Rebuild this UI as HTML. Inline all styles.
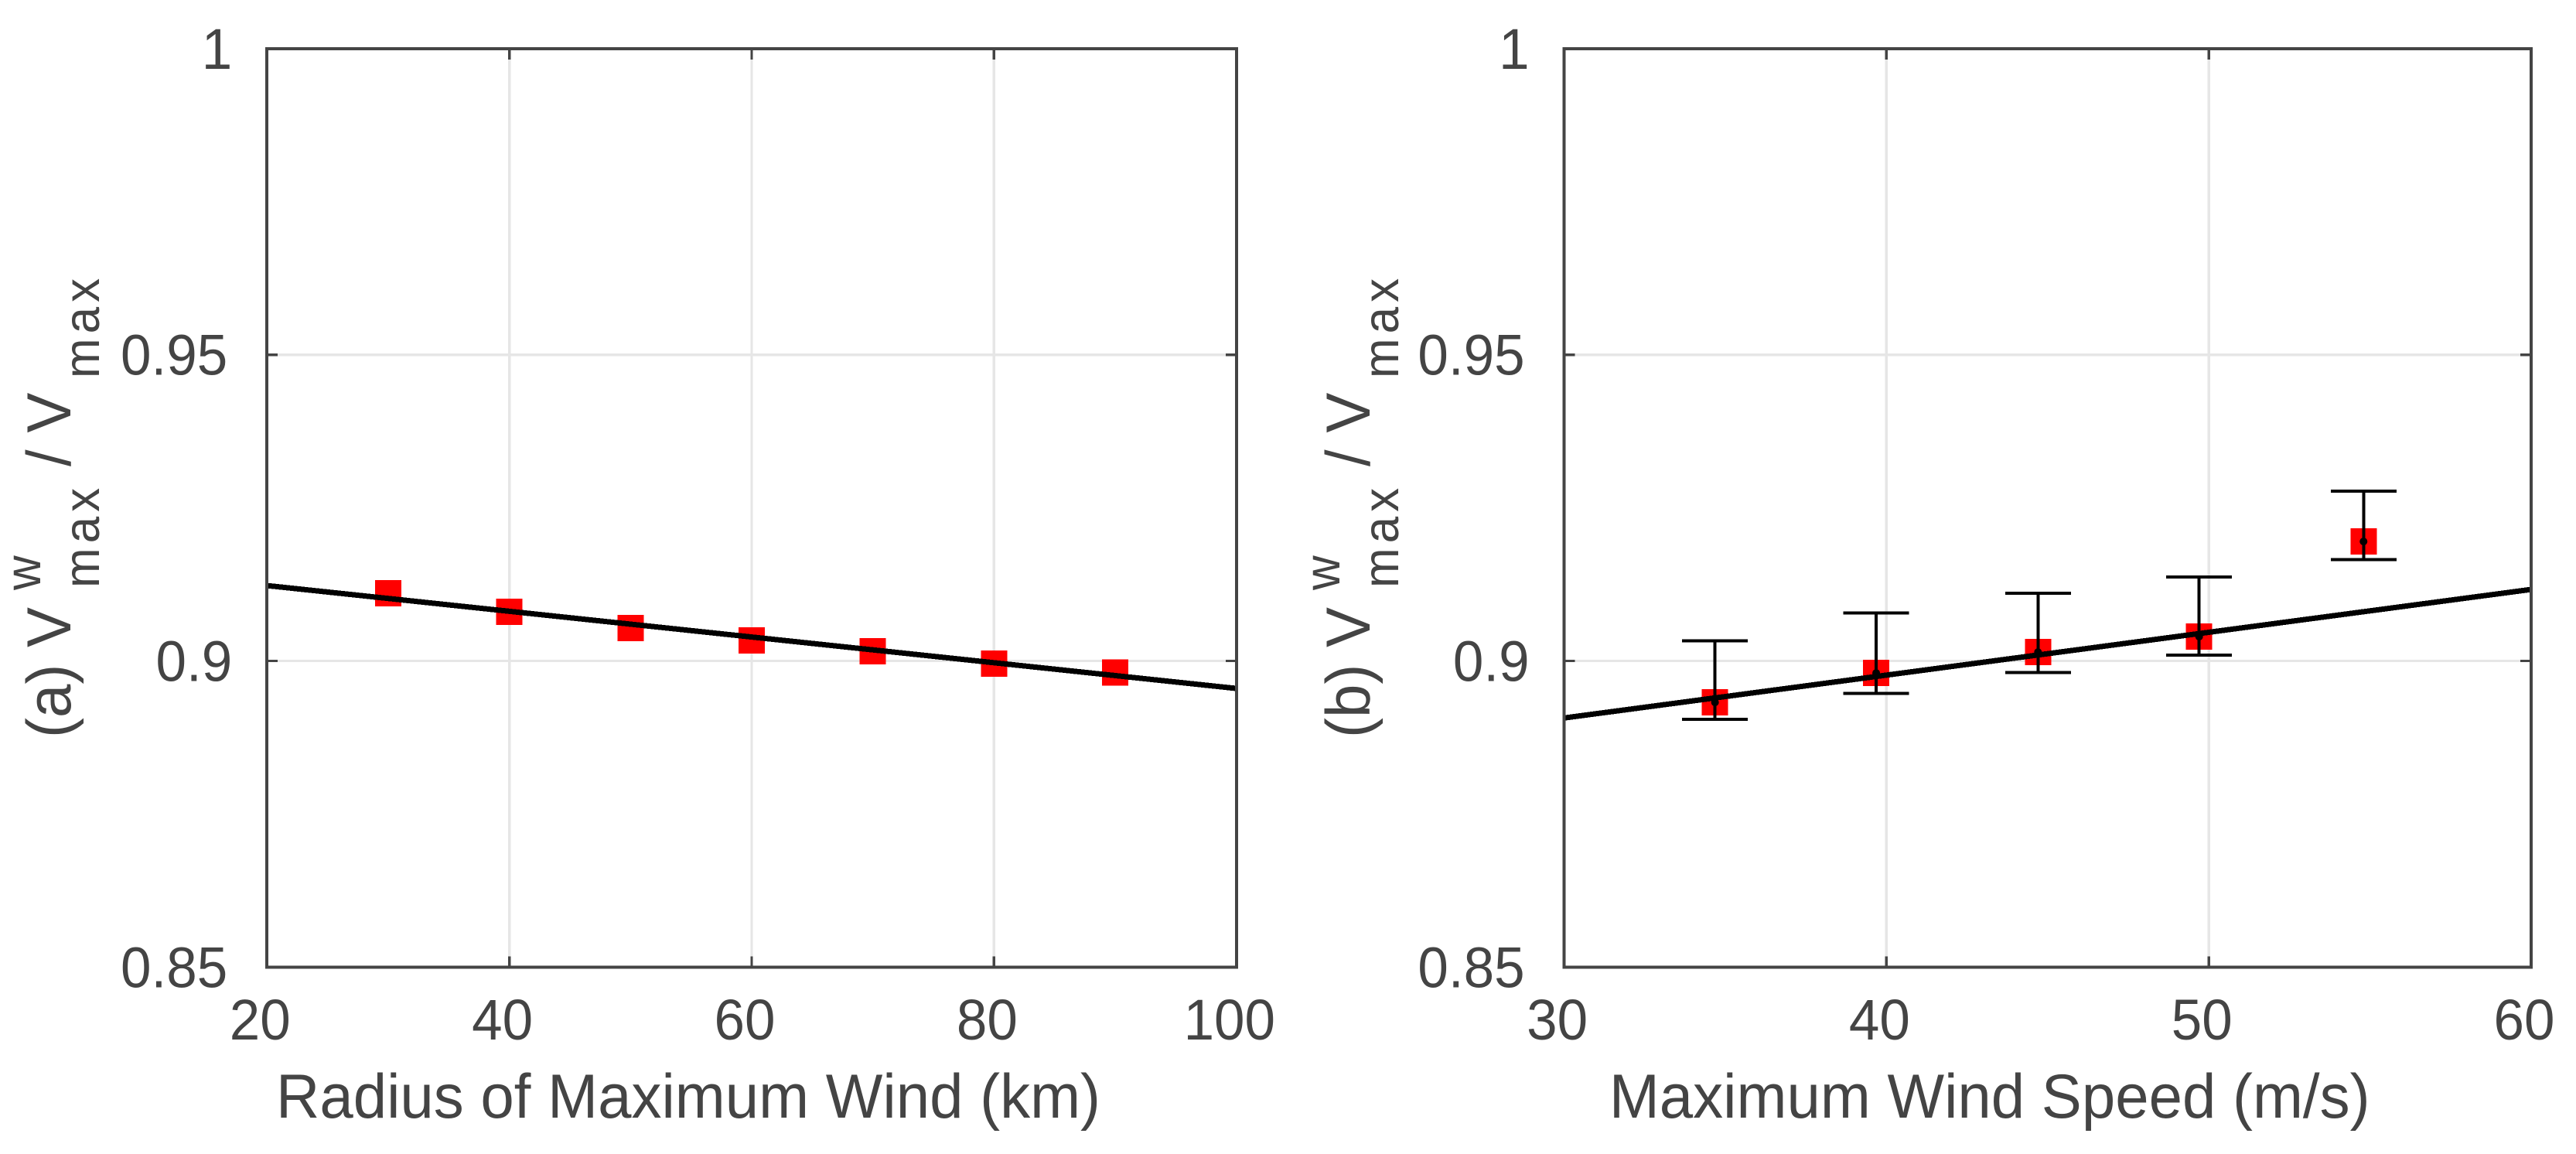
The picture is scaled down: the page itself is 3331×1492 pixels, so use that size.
<!DOCTYPE html>
<html lang="en">
<head>
<meta charset="utf-8">
<title>Wind ratio charts</title>
<style>
  html, body { margin: 0; padding: 0; background: #fff; }
  svg { display: block; }
  text { font-family: "Liberation Sans", Arial, sans-serif; fill: #444444; }
</style>
</head>
<body>
<svg id="chart" xmlns="http://www.w3.org/2000/svg" width="3331" height="1492" viewBox="0 0 3331 1492"></svg>
<script>
// Shared y axis
const yDomain = [0.85, 1];
const yTickValues = [0.85, 0.9, 0.95, 1];
const yTickLabels = ['0.85', '0.9', '0.95', '1'];

// Panel (a)
const aXDomain = [20, 100];
const aXTickValues = [20, 40, 60, 80, 100];
const aXTickLabels = ['20', '40', '60', '80', '100'];
const aRadius = [30, 40, 50, 60, 70, 80, 90];
const aRatio = [0.91104, 0.90801, 0.90536, 0.90334, 0.90157, 0.89955, 0.89808];
const aFitX = [20, 100];
const aFitY = [0.9123, 0.8955];

// Panel (b)
const bXDomain = [30, 60];
const bXTickValues = [30, 40, 50, 60];
const bXTickLabels = ['30', '40', '50', '60'];
const bSpeed = [34.68, 39.68, 44.7, 49.7, 54.8];
const bRatio = [0.89323, 0.89803, 0.90144, 0.90397, 0.9195];
const bUpper = [0.90325, 0.90784, 0.91108, 0.91373, 0.92775];
const bLower = [0.89049, 0.89471, 0.89812, 0.90093, 0.91656];
const bFitX = [30, 60];
const bFitY = [0.89068, 0.91167];

const svgNS = 'http://www.w3.org/2000/svg';
const root = document.getElementById('chart');
const TOP = 62.8, BOTTOM = 1250.3;
const INK = '#444444', GRID = '#e6e6e6';
const STRETCH = 1.04;

function make(parent, tag, attrs, content) {
  const el = document.createElementNS(svgNS, tag);
  for (const k in attrs) el.setAttribute(k, attrs[k]);
  if (content !== undefined) el.textContent = content;
  parent.appendChild(el);
  return el;
}
function linear(domain, r0, r1) {
  return v => r0 + (v - domain[0]) / (domain[1] - domain[0]) * (r1 - r0);
}
const yScale = linear(yDomain, BOTTOM, TOP);

function drawFrame(g, left, right, xScale, xTickValues) {
  // Grid lines
  xTickValues.forEach(v => {
    if (v === xTickValues[0] || v === xTickValues[xTickValues.length - 1]) return;
    const l = make(g, 'line', { x1: xScale(v), x2: xScale(v), y1: TOP, y2: BOTTOM, stroke: GRID, 'stroke-width': 3.4, 'shape-rendering': 'crispEdges' });
    
    
  });
  yTickValues.forEach(v => {
    if (v === yDomain[0] || v === yDomain[1]) return;
    const l = make(g, 'line', { x1: left, x2: right, y1: yScale(v), y2: yScale(v), stroke: GRID, 'stroke-width': 3.4, 'shape-rendering': 'crispEdges' });
    
    
  });
}

function drawAxes(g, left, right, xScale, xTickValues, xTickLabels) {
  const TICK = 14;
  xTickValues.forEach((v, i) => {
    const x = xScale(v);
    const t1 = make(g, 'line', { x1: x, x2: x, y1: BOTTOM, y2: BOTTOM - TICK, stroke: INK, 'stroke-width': 3.4, 'shape-rendering': 'crispEdges' });
    
    
    const t2 = make(g, 'line', { x1: x, x2: x, y1: TOP, y2: TOP + TICK, stroke: INK, 'stroke-width': 3.4, 'shape-rendering': 'crispEdges' });
    
    
    const lab = make(g, 'text', { transform: 'translate(' + (x - 9) + ',1344) scale(1,' + STRETCH + ')', 'font-size': 71, 'text-anchor': 'middle' }, xTickLabels[i]);
    
    
  });
  yTickValues.forEach((v, i) => {
    const y = yScale(v);
    const t1 = make(g, 'line', { x1: left, x2: left + TICK, y1: y, y2: y, stroke: INK, 'stroke-width': 3.4, 'shape-rendering': 'crispEdges' });
    
    
    const t2 = make(g, 'line', { x1: right, x2: right - TICK, y1: y, y2: y, stroke: INK, 'stroke-width': 3.4, 'shape-rendering': 'crispEdges' });
    
    
    const anchorX = left - (yTickLabels[i].length > 3 ? 51 : 45);
    const lab = make(g, 'text', { transform: 'translate(' + anchorX + ',' + (y + 26) + ') scale(1,' + STRETCH + ')', 'font-size': 71, 'text-anchor': 'end' }, yTickLabels[i]);
    
    
  });
  const box = make(g, 'rect', { x: left, y: TOP, width: right - left, height: BOTTOM - TOP, fill: 'none', stroke: INK, 'stroke-width': 4, 'shape-rendering': 'crispEdges' });
  
  
}

function drawYTitle(g, dx, letter) {
  const parts = [
    { s: '(' + letter + ') V', bx: 91, by: 954, size: 78, ls: 0, name: 'y-title-numerator' },
    { s: 'w', bx: 52, by: 763, size: 62, ls: 0, name: 'y-title-superscript' },
    { s: 'max', bx: 128, by: 760, size: 62, ls: 6, name: 'y-title-numerator-subscript' },
    { s: '/ V', bx: 91, by: 603, size: 78, ls: 0, name: 'y-title-denominator' },
    { s: 'max', bx: 128, by: 489, size: 62, ls: 6, name: 'y-title-denominator-subscript' }
  ];
  parts.forEach(p => {
    const t = make(g, 'text', { transform: 'translate(' + (p.bx + dx) + ',' + p.by + ') rotate(-90) scale(1,' + STRETCH + ')', 'font-size': p.size, 'letter-spacing': p.ls }, p.s);
    
    
  });
}

function drawSquares(g, xs, ys, xScale) {
  const S = 34;
  xs.forEach((v, i) => {
    const m = make(g, 'rect', { x: xScale(v) - S / 2, y: yScale(ys[i]) - S / 2, width: S, height: S, fill: '#ff0000', 'shape-rendering': 'crispEdges' });
    
    
  });
}

function drawFit(g, fx, fy, xScale) {
  const l = make(g, 'line', { x1: xScale(fx[0]), y1: yScale(fy[0]), x2: xScale(fx[1]), y2: yScale(fy[1]), stroke: '#000', 'stroke-width': 7, 'shape-rendering': 'crispEdges' });
  
  
}

function drawErrors(g, xs, ys, up, lo, xScale) {
  const CAP = 85;
  xs.forEach((v, i) => {
    const x = xScale(v);
    const stem = make(g, 'line', { x1: x, x2: x, y1: yScale(up[i]), y2: yScale(lo[i]), stroke: '#000', 'stroke-width': 4, 'shape-rendering': 'crispEdges' });
    
    
    const c1 = make(g, 'line', { x1: x - CAP / 2, x2: x + CAP / 2, y1: yScale(up[i]), y2: yScale(up[i]), stroke: '#000', 'stroke-width': 4, 'shape-rendering': 'crispEdges' });
    
    
    const c2 = make(g, 'line', { x1: x - CAP / 2, x2: x + CAP / 2, y1: yScale(lo[i]), y2: yScale(lo[i]), stroke: '#000', 'stroke-width': 4, 'shape-rendering': 'crispEdges' });
    
    
    const d = make(g, 'circle', { cx: x, cy: yScale(ys[i]), r: 5, fill: '#000' });
    
    
  });
}

// Panel (a)
const gA = make(root, 'g', {});


const aLeft = 345.2, aRight = 1598.8;
const xA = linear(aXDomain, aLeft, aRight);
drawFrame(gA, aLeft, aRight, xA, aXTickValues);
drawSquares(gA, aRadius, aRatio, xA);
drawFit(gA, aFitX, aFitY, xA);
drawAxes(gA, aLeft, aRight, xA, aXTickValues, aXTickLabels);
drawYTitle(gA, 0, 'a');
const aTitle = make(gA, 'text', { transform: 'translate(890,1445) scale(1,' + STRETCH + ')', 'font-size': 78, 'text-anchor': 'middle' }, 'Radius of Maximum Wind (km)');



// Panel (b)
const gB = make(root, 'g', {});


const bLeft = 2022.6, bRight = 3273;
const xB = linear(bXDomain, bLeft, bRight);
drawFrame(gB, bLeft, bRight, xB, bXTickValues);
drawSquares(gB, bSpeed, bRatio, xB);
drawFit(gB, bFitX, bFitY, xB);
drawErrors(gB, bSpeed, bRatio, bUpper, bLower, xB);
drawAxes(gB, bLeft, bRight, xB, bXTickValues, bXTickLabels);
drawYTitle(gB, 1680, 'b');
const bTitle = make(gB, 'text', { transform: 'translate(2572.7,1445) scale(1,' + STRETCH + ')', 'font-size': 78, 'text-anchor': 'middle' }, 'Maximum Wind Speed (m/s)');


</script>
</body>
</html>
